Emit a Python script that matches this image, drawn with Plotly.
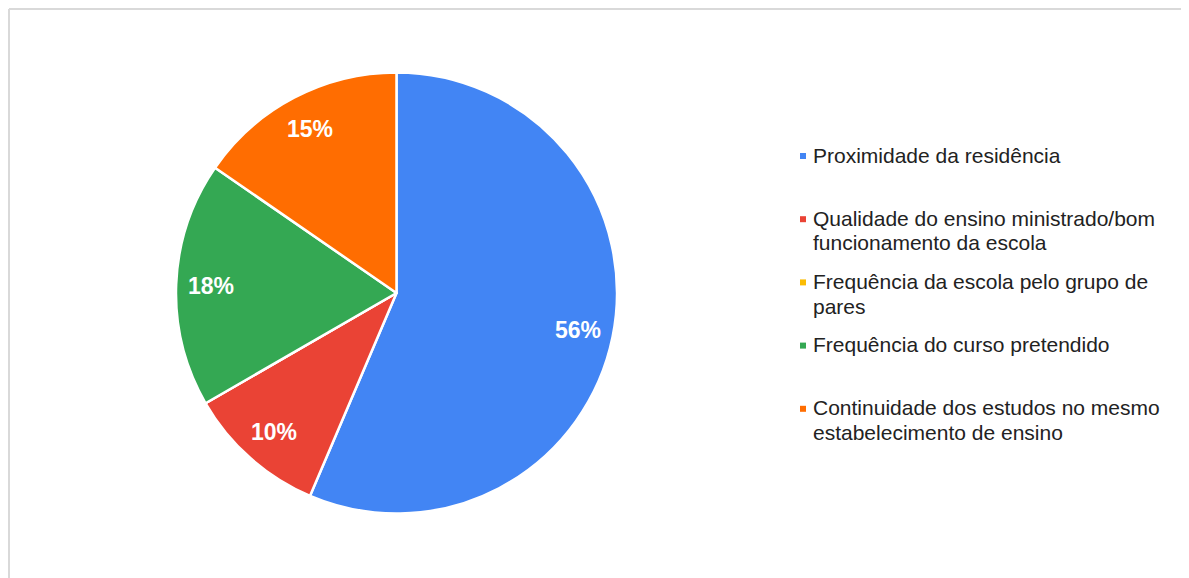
import math
import textwrap

import plotly.graph_objects as go

# respostas (contagens) por motivo de escolha da escola
labels = [
    "Proximidade da residência",
    "Qualidade do ensino ministrado/bom funcionamento da escola",
    "Frequência da escola pelo grupo de pares",
    "Frequência do curso pretendido",
    "Continuidade dos estudos no mesmo estabelecimento de ensino",
]
counts = [22, 4, 0, 7, 6]
colors = ["#4285F4", "#EA4335", "#FBBC04", "#34A853", "#FF6D01"]

W, H = 1189, 578
OFF = 8  # margem do <body> na página
FONT = "Liberation Sans, Arial, sans-serif"


def px_x(x):
    return (x - OFF) / W


def px_y(y):
    return 1 - (y - OFF) / H


# geometria da tarte (pixels da página)
CX, CY, R = 396.5, 293, 220.5

fig = go.Figure(
    go.Pie(
        labels=labels,
        values=counts,
        sort=False,
        direction="clockwise",
        rotation=0,
        marker=dict(colors=colors, line=dict(color="white", width=2.5)),
        textinfo="none",
        domain=dict(x=[px_x(CX - R), px_x(CX + R)], y=[px_y(CY + R), px_y(CY - R)]),
        showlegend=False,
        hoverinfo="label+percent",
    )
)

annotations = []

# percentagens dentro das fatias, perto do bordo (como no Google Sheets)
total = sum(counts)
start = 0.0
for c in counts:
    frac = c / total
    if c:
        mid = 2 * math.pi * (start + frac / 2)
        annotations.append(dict(
            text=f"{round(frac * 100)}%", xref="paper", yref="paper",
            x=px_x(CX + 0.84 * R * math.sin(mid)),
            y=px_y(CY - 0.84 * R * math.cos(mid)),
            xanchor="center", yanchor="middle", showarrow=False,
            font=dict(family=FONT, size=23, color="white", weight="bold"),
        ))
    start += frac

# legenda à direita
shapes = []
for i, (lab, col) in enumerate(zip(labels, colors)):
    y0 = 155 + 63.2 * i
    shapes.append(dict(
        type="rect", xref="paper", yref="paper",
        x0=px_x(800), x1=px_x(806), y0=px_y(y0 - 2), y1=px_y(y0 + 4),
        fillcolor=col, line=dict(width=0),
    ))
    for j, line in enumerate(textwrap.wrap(lab, width=34)):
        annotations.append(dict(
            text=line, xref="paper", yref="paper",
            x=px_x(811), y=px_y(y0 + j * 24.6),
            xanchor="left", yanchor="middle", showarrow=False,
            font=dict(family=FONT, size=21, color="#222222"),
        ))

# moldura cinzenta (topo e esquerda)
shapes.append(dict(type="line", xref="paper", yref="paper",
                   x0=px_x(9), x1=1, y0=px_y(9), y1=px_y(9),
                   line=dict(color="#d9d9d9", width=2)))
shapes.append(dict(type="line", xref="paper", yref="paper",
                   x0=px_x(9), x1=px_x(9), y0=0, y1=px_y(9),
                   line=dict(color="#d9d9d9", width=2)))

fig.update_layout(
    width=W,
    height=H,
    margin=dict(l=0, r=0, t=0, b=0),
    paper_bgcolor="white",
    plot_bgcolor="white",
    annotations=annotations,
    shapes=shapes,
)

fig.write_html("out.html")
